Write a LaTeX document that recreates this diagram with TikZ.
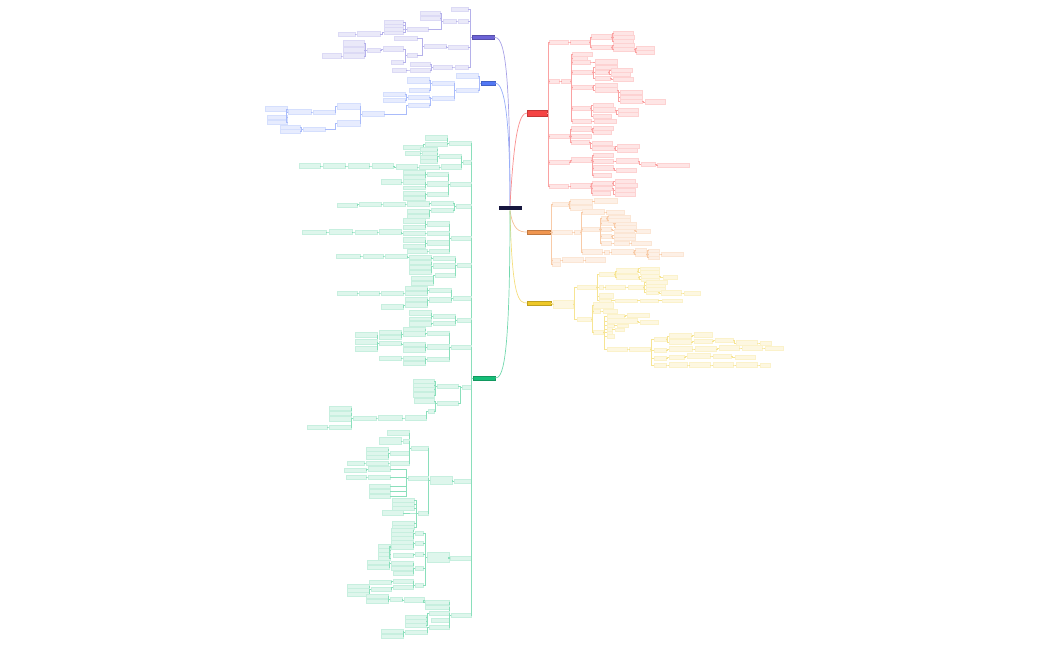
\documentclass[tikz,border=0pt]{standalone}
\usepackage{tikz}
\usetikzlibrary{positioning}
\usepackage{xcolor}
\definecolor{NV}{RGB}{22,22,62}
\definecolor{PU}{RGB}{108,99,214}
\definecolor{BU}{RGB}{82,120,245}
\definecolor{GR}{RGB}{22,190,120}
\definecolor{RD}{RGB}{245,68,68}
\definecolor{OR}{RGB}{240,150,80}
\definecolor{YE}{RGB}{238,200,40}

% fan of children to the left / right of a parent node
\newcommand\fanL[3]{%
  \foreach \xr/\yy/\ww/\hh [count=\k] in {#3}{%
    \node[leaf=#1, minimum width=\ww, minimum height=\hh, anchor=east] (#2-\k) at (\xr,\yy) {};
    \draw[link=#1] (#2.west) -- ++(-1.5,0) |- (#2-\k.east);
  }}
\newcommand\fanR[3]{%
  \foreach \xl/\yy/\ww/\hh [count=\k] in {#3}{%
    \node[leaf=#1, minimum width=\ww, minimum height=\hh, anchor=west] (#2-\k) at (\xl,\yy) {};
    \draw[link=#1] (#2.east) -- ++(1.5,0) |- (#2-\k.west);
  }}

\begin{document}
\begin{tikzpicture}[x=1pt, y=-1pt,
  leaf/.style={rectangle, draw=#1!24, fill=#1!14, line width=0.3pt,
               inner sep=0pt, outer sep=0pt},
  link/.style={draw=#1!50, line width=0.45pt},
  topic/.style={rectangle, fill=#1, draw=#1!80!black, line width=0.3pt,
                inner sep=0pt, outer sep=0pt, minimum height=3.5},
  trunk/.style={draw=#1!60, line width=0.7pt}
]
\useasboundingbox (0,0) rectangle (1050,650);

\node[topic=NV, draw=white, minimum width=24, minimum height=5] (root) at (510,208) {};
\node[topic=PU, minimum width=22] (P) at (483,37) {};
\node[topic=BU, minimum width=14, minimum height=4] (B) at (488,83) {};
\node[topic=GR, minimum width=22, minimum height=4] (G) at (484,378) {};
\node[topic=RD, minimum width=20, minimum height=6.5] (R) at (537,113) {};
\node[topic=OR, minimum width=23] (O) at (538.5,232) {};
\node[topic=YE, minimum width=24] (Y) at (539,303) {};

\draw[trunk=PU] (root.north) .. controls (510,60) and (504,37) .. (P.east);
\draw[trunk=BU] (root.north) .. controls (510,100) and (502,83) .. (B.east);
\draw[trunk=RD] (root.north) .. controls (514,135) and (519,113) .. (R.west);
\draw[trunk=OR] (root.south) .. controls (513,230) and (519,232) .. (O.west);
\draw[trunk=YE] (root.south) .. controls (512,300) and (519,303) .. (Y.west);
\draw[trunk=GR] (root.south) .. controls (510,370) and (502,378) .. (G.east);

% purple
\fanL{PU}{P}{468/9/17/3.5, 468/21/10/3.5, 468/47/20/3.5, 468/67/13/3.5}
\fanL{PU}{P-2}{456/21/13/3.5}
\fanL{PU}{P-2-1}{440/13/20/4, 440/18/20/4, 428/29/21/3.5}
\fanL{PU}{P-2-1-3}{403/22/19/3.5, 403/25.5/19/3.5, 403/29/19/3.5, 403/32.5/19/3.5}
\fanL{PU}{P-2-1-3-4}{380/34/23/5}
\fanL{PU}{P-2-1-3-4-1}{355/34/17/3.5}
\fanL{PU}{P-3}{446/46/22/4}
\fanL{PU}{P-3-1}{417/38/23/3.5, 417/55/10/3.5}
\fanL{PU}{P-3-1-2}{403/49/20/5, 403/62/12/3.5}
\fanL{PU}{P-3-1-2-1}{380/50/13/3.5}
\fanL{PU}{P-3-1-2-1-1}{364/43/21/6, 364/50/21/5, 364/56/21/5}
\fanL{PU}{P-3-1-2-1-1-3}{341/56/19/5}
\fanL{PU}{P-4}{452/67/19/3.5}
\fanL{PU}{P-4-1}{430/64/20/4, 430/70/20/4}
\fanL{PU}{P-4-1-2}{406/70/14/3.5}

% blue
\fanL{BU}{B}{478/76/22/5, 478/90/22/3.5}
\fanL{BU}{B-2}{454/83/22/3.5, 454/98/22/3.5}
\fanL{BU}{B-2-1}{429/80/22/6, 429/90/20/3.5}
\fanL{BU}{B-2-2}{429/97/21/3.5, 429/105/21/3.5}
\fanL{BU}{B-2-2-1}{405/94/22/3.5, 405/100/22/3.5}
\fanL{BU}{B-2-2-2}{384/114/22/5}
\fanL{BU}{B-2-2-2-1}{360/106/23/6, 360/123/23/6}
\fanL{BU}{B-2-2-2-1-1}{335/112/22/3.5}
\fanL{BU}{B-2-2-2-1-1-1}{311/112/23/5}
\fanL{BU}{B-2-2-2-1-1-1-1}{287/109/22/5, 287/117/20/3.5, 287/122/20/3.5}
\fanL{BU}{B-2-2-2-1-2}{325/129/22/3.5}
\fanL{BU}{B-2-2-2-1-2-1}{300/127/20/3.5, 300/131/20/3.5}

% green
\fanL{GR}{G}{471/143/22/3.5, 471/162/8/3.5, 471/184/21/3.5, 471/206/15/3.5,
  471/238/20/3.5, 471/265/14/3.5, 471/298/18/3.5, 471/320/14/3.5, 471/347/20/3.5,
  471/387/9/3.5, 471/481/17/3.5, 471/558/21/3.5, 471/615/20/3.5}
\fanL{GR}{G-1}{447/138/22/5, 447/144/22/3.5}
\fanL{GR}{G-1-2}{423/147/20/3.5}
\fanL{GR}{G-2}{461/156/22/3.5, 461/167/20/5}
\fanL{GR}{G-2-1}{437/149/17/3.5, 437/153/15/3.5, 437/157/17/3.5, 437/161/17/3.5}
\fanL{GR}{G-2-1-2}{420/153/15/3.5}
\fanL{GR}{G-2-2}{439/167/20/3.5}
\fanL{GR}{G-2-2-1}{417/167/21/5}
\fanL{GR}{G-2-2-1-1}{393/166/21/5}
\fanL{GR}{G-2-2-1-1-1}{369/166/21/5}
\fanL{GR}{G-2-2-1-1-1-1}{345/166/22/5}
\fanL{GR}{G-2-2-1-1-1-1-1}{320/166/21/5}
\fanL{GR}{G-3}{448/174/21/3.5, 448/184/21/5, 448/194/21/3.5}
\fanL{GR}{G-3-1}{425/172/22/3.5, 425/177/22/3.5}
\fanL{GR}{G-3-2}{425/182/22/5, 425/187.5/22/3.5}
\fanL{GR}{G-3-2-1}{401/182/20/5}
\fanL{GR}{G-3-3}{425/193/22/3.5, 425/198/22/3.5}
\fanL{GR}{G-4}{453/203/22/3.5, 453/210/22/3.5}
\fanL{GR}{G-4-1}{429/204/22/5}
\fanL{GR}{G-4-1-1}{405/204/22/3.5}
\fanL{GR}{G-4-1-1-1}{381/204/22/3.5}
\fanL{GR}{G-4-1-1-1-1}{357/205/20/3.5}
\fanL{GR}{G-4-2}{429/211/22/3.5, 429/216/22/3.5}
\fanL{GR}{G-5}{449/224/22/5, 449/233/22/3.5, 449/243/22/5, 449/251/20/3.5}
\fanL{GR}{G-5-1}{425/221/22/5, 425/227/22/3.5}
\fanL{GR}{G-5-2}{425/233/22/3.5}
\fanL{GR}{G-5-2-1}{401/232/22/5}
\fanL{GR}{G-5-2-1-1}{377/232/22/3.5}
\fanL{GR}{G-5-2-1-1-1}{352/232/23/5}
\fanL{GR}{G-5-2-1-1-1-1}{326/232/24/3.5}
\fanL{GR}{G-5-3}{425/240/22/5, 425/246/22/3.5}
\fanL{GR}{G-5-4}{427/251/20/3.5}
\fanL{GR}{G-6}{455/258/22/3.5, 455/266/22/5, 455/275/20/3.5}
\fanL{GR}{G-6-1}{431/257/22/3.5}
\fanL{GR}{G-6-1-1}{407/256/22/3.5}
\fanL{GR}{G-6-1-1-1}{383/256/20/3.5}
\fanL{GR}{G-6-1-1-1-1}{360/256/24/3.5}
\fanL{GR}{G-6-2}{431/262/22/3.5, 431/267/22/3.5, 431/272/22/3.5}
\fanL{GR}{G-6-3}{433/278/22/3.5, 433/283/22/3.5}
\fanL{GR}{G-7}{451/290/22/3.5, 451/300/22/5}
\fanL{GR}{G-7-1}{427/288/22/3.5, 427/293/22/3.5}
\fanL{GR}{G-7-1-2}{403/293/22/3.5}
\fanL{GR}{G-7-1-2-1}{379/293/20/3.5}
\fanL{GR}{G-7-1-2-1-1}{357/293/20/3.5}
\fanL{GR}{G-7-2}{427/299/22/3.5, 427/305/22/5}
\fanL{GR}{G-7-2-2}{403/307/22/5}
\fanL{GR}{G-8}{455/316/22/3.5, 455/323/22/3.5}
\fanL{GR}{G-8-1}{431/313/22/5, 431/318.5/22/3.5}
\fanL{GR}{G-8-2}{431/324/22/5}
\fanL{GR}{G-9}{449/333/22/3.5, 449/347/22/5, 449/359/22/3.5}
\fanL{GR}{G-9-1}{425/329/22/3.5, 425/334/22/5}
\fanL{GR}{G-9-1-2}{401/332/22/3.5, 401/337/22/3.5}
\fanL{GR}{G-9-2}{425/344/22/3.5, 425/350/22/5}
\fanL{GR}{G-9-2-1}{401/343/22/3.5}
\fanL{GR}{G-9-2-1-1}{377/335/22/5, 377/342/22/5, 377/349/22/5}
\fanL{GR}{G-9-3}{425/358/22/3.5, 425/363/22/3.5}
\fanL{GR}{G-9-3-1}{401/358/22/3.5}
\fanL{GR}{G-10}{458/386/21/3.5, 458/403/21/3.5}
\fanL{GR}{G-10-1}{434/381/21/3.5, 434/385/21/3.5, 434/389/21/3.5, 434/395/21/5}
\fanL{GR}{G-10-2}{434/401/20/5, 434/411/6/3.5}
\fanL{GR}{G-10-2-2}{426/418/21/5}
\fanL{GR}{G-10-2-2-1}{402/418/24/5}
\fanL{GR}{G-10-2-2-1-1}{376/418/23/3.5}
\fanL{GR}{G-10-2-2-1-1-1}{351/408/22/3.5, 351/413/22/3.5, 351/419/22/5, 351/427/22/3.5}
\fanL{GR}{G-10-2-2-1-1-1-4}{327/427/20/3.5}
\fanL{GR}{G-11}{452/480/22/8}
\fanL{GR}{G-11-1}{428/448/17/3.5, 428/478/20/3.5, 428/513/10/3.5}
\fanL{GR}{G-11-1-1}{409/433/22/5, 409/441/6/3.5, 409/453/19/3.5, 409/463/19/3.5}
\fanL{GR}{G-11-1-1-2}{401/441/22/7}
\fanL{GR}{G-11-1-1-3}{388/449/22/3.5, 388/453/22/3.5, 388/457/22/3.5}
\fanL{GR}{G-11-1-1-4}{388/463/22/3.5}
\fanL{GR}{G-11-1-1-4-1}{364/463/17/3.5}
\fanL{GR}{G-11-1-2}{390/469/22/5, 390/477/22/3.5, 390/486/21/3.5, 390/491/21/3.5, 390/496/21/3.5}
\fanL{GR}{G-11-1-2-1}{366/470/22/3.5}
\fanL{GR}{G-11-1-2-2}{366/477/20/3.5}
\fanL{GR}{G-11-1-3}{414/500/22/3.5, 414/504/22/3.5, 414/508/22/3.5, 403/513/21/5, 414/523/22/3.5, 414/527/22/3.5}
\fanL{GR}{G-12}{449/557/22/10}
\fanL{GR}{G-12-1}{423/533/8/3.5, 423/543/8/3.5, 423/554/8/3.5, 423/568/8/3.5, 423/585/8/3.5}
\fanL{GR}{G-12-1-1}{413/530/22/3.5, 413/534/22/3.5, 413/538/22/3.5}
\fanL{GR}{G-12-1-2}{413/542/22/3.5, 413/547/22/5}
\fanL{GR}{G-12-1-2-2}{390/546/12/3.5, 390/550/12/3.5, 390/554/12/3.5, 390/558/12/3.5}
\fanL{GR}{G-12-1-3}{413/555/20/3.5}
\fanL{GR}{G-12-1-4}{413/563/22/3.5, 413/568/22/3.5, 413/573/20/3.5}
\fanL{GR}{G-12-1-4-1}{389/562/22/3.5, 389/567/22/3.5}
\fanL{GR}{G-12-1-5}{413/581/20/3.5, 413/587/20/3.5}
\fanL{GR}{G-12-1-5-1}{391/582/22/3.5}
\fanL{GR}{G-12-1-5-2}{391/589/20/3.5}
\fanL{GR}{G-12-1-5-2-1}{369/586/22/3.5, 369/590/22/3.5, 369/594/22/3.5}
\fanL{GR}{G-13}{449/602/24/3.5, 449/607/24/3.5, 449/613/20/3.5, 449/620/18/3.5, 449/627/20/3.5}
\fanL{GR}{G-13-1}{424/600/20/5}
\fanL{GR}{G-13-1-1}{402/599/12/3.5}
\fanL{GR}{G-13-1-1-1}{388/596/22/3.5, 388/601/22/3.5}
\fanL{GR}{G-13-3}{426/617/21/3.5, 426/621/21/3.5, 426/625/21/3.5}
\fanL{GR}{G-13-5}{427/632/22/3.5}
\fanL{GR}{G-13-5-1}{403/631/22/3.5, 403/636/22/3.5}

% red
\fanR{RD}{R}{549/42/19/3.5, 549/81/10/3.5, 549/136/20/3.5, 549/162/20/3.5, 549/186/19/3.5}
\fanR{RD}{R-1}{570/42/19/3.5}
\fanR{RD}{R-1-1}{591/37/20/5, 591/47/20/3.5}
\fanR{RD}{R-1-1-1}{613/33/20/3.5, 613/37/21/3.5, 613/41/20/3.5}
\fanR{RD}{R-1-1-2}{613/45/21/3.5, 613/49/21/3.5}
\fanR{RD}{R-1-1-2-2}{636/48/18/3.5, 636/52/18/3.5}
\fanR{RD}{R-2}{561/81/9/3.5}
\fanR{RD}{R-2-1}{572/54/20/3.5, 572/58/15/3.5, 572/62/18/3.5, 572/72/20/3.5, 572/87/20/3.5, 572/108/18/3.5, 572/121/19/3.5}
\fanR{RD}{R-2-1-3}{595/62/22/5}
\fanR{RD}{R-2-1-4}{595/67/22/3.5, 595/72/13/3.5, 595/78/15/3.5}
\fanR{RD}{R-2-1-4-2}{611/70/21/3.5, 611/74/19/3.5}
\fanR{RD}{R-2-1-4-3}{613/79/20/3.5}
\fanR{RD}{R-2-1-5}{595/85/22/3.5, 595/90/22/5}
\fanR{RD}{R-2-1-5-2}{620/92/22/3.5, 620/97/22/3.5, 620/101/22/3.5}
\fanR{RD}{R-2-1-5-2-3}{645/102/20/5}
\fanR{RD}{R-2-1-6}{593/105/20/3.5, 593/110/22/5, 593/116/18/3.5}
\fanR{RD}{R-2-1-6-2}{618/110/20/3.5, 618/114/20/3.5}
\fanR{RD}{R-2-1-7}{594/121/22/3.5}
\fanR{RD}{R-3}{571/129/20/5, 571/136/20/3.5, 571/142/18/3.5}
\fanR{RD}{R-3-1}{593/128/20/3.5, 593/132/18/3.5}
\fanR{RD}{R-3-3}{592/143/20/3.5, 592/148/22/3.5}
\fanR{RD}{R-3-3-2}{617/146/22/3.5, 617/150/20/3.5}
\fanR{RD}{R-4}{571/160/20/5}
\fanR{RD}{R-4-1}{593/155/20/3.5, 593/161/20/3.5, 593/168/20/5, 593/175/18/3.5}
\fanR{RD}{R-4-1-2}{616/161/22/5}
\fanR{RD}{R-4-1-2-1}{641/164/14/3.5}
\fanR{RD}{R-4-1-2-1-1}{657/165/32/3.5}
\fanR{RD}{R-4-1-3}{616/170/20/3.5}
\fanR{RD}{R-5}{570/186/20/5}
\fanR{RD}{R-5-1}{592/183/20/3.5, 592/188/20/3.5, 592/193/18/3.5}
\fanR{RD}{R-5-1-1}{615/181/20/3.5, 615/185/22/3.5}
\fanR{RD}{R-5-1-2}{615/190/20/3.5, 615/194/20/3.5}

% orange
\fanR{OR}{O}{552/204/16/3.5, 552/232/20/3.5, 552/260/8/3.5, 552/264/8/3.5}
\fanR{OR}{O-1}{570/201.5/22/5, 570/208/22/5}
\fanR{OR}{O-1-1}{594/201/23/5}
\fanR{OR}{O-2}{574/232/6/3.5}
\fanR{OR}{O-2-1}{582/212/22/5, 582/229/17/3.5, 582/252/20/5}
\fanR{OR}{O-2-1-1}{606/212/18/3.5}
\fanR{OR}{O-2-1-2}{601/218/5/3.5, 601/223/12/3.5, 601/229/10/3.5, 601/236/10/3.5, 601/243/10/3.5}
\fanR{OR}{O-2-1-2-1}{608/216.5/22/3.5, 608/220/22/3.5}
\fanR{OR}{O-2-1-2-2}{615/223.5/21/3.5, 615/227/21/3.5}
\fanR{OR}{O-2-1-2-3}{614/230.5/20/3.5}
\fanR{OR}{O-2-1-2-3-1}{636/231/14/3.5}
\fanR{OR}{O-2-1-2-4}{614/235/21/3.5, 614/238.5/21/3.5}
\fanR{OR}{O-2-1-2-5}{614/243/15/3.5}
\fanR{OR}{O-2-1-2-5-1}{631/243/20/3.5}
\fanR{OR}{O-2-1-3}{604/252/5/3.5}
\fanR{OR}{O-2-1-3-1}{611/252/22/5}
\fanR{OR}{O-2-1-3-1-1}{635/250/11/3.5, 635/254/11/3.5}
\fanR{OR}{O-2-1-3-1-1-2}{648/250.5/11/3.5, 648/254/11/3.5, 648/257.5/11/3.5}
\fanR{OR}{O-2-1-3-1-1-2-2}{661/254/22/3.5}
\fanR{OR}{O-3}{562/260/21/5}
\fanR{OR}{O-3-1}{585/260/20/5}

% yellow
\fanR{YE}{Y}{553/304/20/8}
\fanR{YE}{Y-1}{577/287/19/3.5, 577/319/14/3.5}
\fanR{YE}{Y-1-1}{599/274/15/3.5, 599/287/4/3.5, 599/296/14/5, 599/300.5/12/3.5}
\fanR{YE}{Y-1-1-1}{616/271/21/5, 616/277/22/5}
\fanR{YE}{Y-1-1-1-1}{640/268.5/19/3.5, 640/272/19/3.5}
\fanR{YE}{Y-1-1-1-2}{641/276/18/3.5, 641/279.5/18/3.5}
\fanR{YE}{Y-1-1-1-2-1}{663/277/14/3.5}
\fanR{YE}{Y-1-1-2}{605/287/20/3.5}
\fanR{YE}{Y-1-1-2-1}{628/287/15/3.5}
\fanR{YE}{Y-1-1-2-1-1}{646/282/21/3.5, 646/285.5/19/3.5, 646/289/19/3.5, 646/292.5/12/3.5}
\fanR{YE}{Y-1-1-2-1-1-4}{661/293/20/5}
\fanR{YE}{Y-1-1-2-1-1-4-1}{684/293/16/3.5}
\fanR{YE}{Y-1-1-4}{615/300.5/22/3.5}
\fanR{YE}{Y-1-1-4-1}{640/300.5/18/3.5}
\fanR{YE}{Y-1-1-4-1-1}{662/300.5/20/3.5}
\fanR{YE}{Y-1-2}{593/305/20/6, 593/311/7/3.5, 593/332/10/3.5}
\fanR{YE}{Y-1-2-2}{603/311/14/3.5}
\fanR{YE}{Y-1-2-3}{607/316/17/3.5, 607/321/30/5, 607/325.5/7/3.5, 607/329/5/3.5, 607/332.5/5/3.5, 607/336/7/3.5, 607/349/20/3.5}
\fanR{YE}{Y-1-2-3-1}{627/315/22/3.5}
\fanR{YE}{Y-1-2-3-2}{640/322/18/3.5}
\fanR{YE}{Y-1-2-3-3}{617/325.5/11/3.5}
\fanR{YE}{Y-1-2-3-4}{615/329.5/9/3.5}
\fanR{YE}{Y-1-2-3-7}{629/349/21/3.5}
\fanR{YE}{Y-1-2-3-7-1}{654/339/12/3.5, 654/350/12/3.5, 654/358/12/3.5, 654/365/12/3.5}
\fanR{YE}{Y-1-2-3-7-1-1}{669/336/22/5, 669/342/22/5}
\fanR{YE}{Y-1-2-3-7-1-1-1}{694/335/18/5}
\fanR{YE}{Y-1-2-3-7-1-1-2}{694/341/18/3.5}
\fanR{YE}{Y-1-2-3-7-1-1-2-1}{715/340/18/3.5}
\fanR{YE}{Y-1-2-3-7-1-1-2-1-1}{736/343/21/5}
\fanR{YE}{Y-1-2-3-7-1-1-2-1-1-1}{760/343/11/3.5}
\fanR{YE}{Y-1-2-3-7-1-2}{669/349/23/5}
\fanR{YE}{Y-1-2-3-7-1-2-1}{695/349/21/5}
\fanR{YE}{Y-1-2-3-7-1-2-1-1}{719/348/20/5}
\fanR{YE}{Y-1-2-3-7-1-2-1-1-1}{742/348/20/5}
\fanR{YE}{Y-1-2-3-7-1-2-1-1-1-1}{765/348/18/3.5}
\fanR{YE}{Y-1-2-3-7-1-3}{669/357/15/3.5}
\fanR{YE}{Y-1-2-3-7-1-3-1}{687/356/23/5}
\fanR{YE}{Y-1-2-3-7-1-3-1-1}{713/356/18/3.5}
\fanR{YE}{Y-1-2-3-7-1-3-1-1-1}{735/357/20/3.5}
\fanR{YE}{Y-1-2-3-7-1-4}{669/365/18/5}
\fanR{YE}{Y-1-2-3-7-1-4-1}{689/365/21/5}
\fanR{YE}{Y-1-2-3-7-1-4-1-1}{713/365/20/5}
\fanR{YE}{Y-1-2-3-7-1-4-1-1-1}{736/365/21/5}
\fanR{YE}{Y-1-2-3-7-1-4-1-1-1-1}{760/365/10/3.5}
\end{tikzpicture}
\end{document}
